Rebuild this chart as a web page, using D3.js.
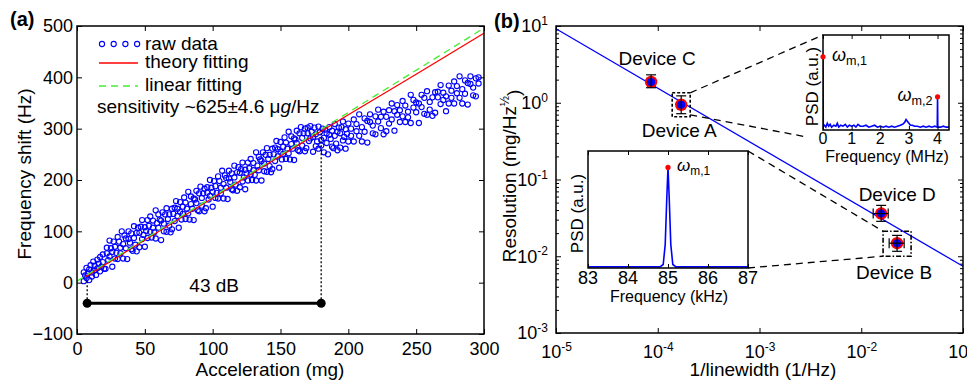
<!DOCTYPE html>
<html>
<head>
<meta charset="utf-8">
<script src="https://d3js.org/d3.v7.min.js"></script>
<style>
  html, body { margin: 0; padding: 0; background: #fff; }
  svg { display: block; font-family: "Liberation Sans", Arial, sans-serif; }
</style>
</head>
<body>
<svg id="chart" width="967" height="383"></svg>
<script>
// ---------- panel (a) data ----------
const accelTicks = [0, 50, 100, 150, 200, 250, 300]
const shiftTicks = [-100, 0, 100, 200, 300, 400, 500]

// [acceleration (mg), frequency shift (Hz), optional second shift]
const rawRows = [
  [5,3,20],[6,14],[7,29,9],[8,18],[9,5,26],[10,34],[11,20,12],[12,41],[13,24,33],[14,15],
  [15,45,28],[16,37],[17,22,50],[18,31],[19,55,40],[20,27],[21,27],[22,57,68],[23,44],[24,82,51],
  [25,67],[26,31,60],[27,80],[28,47,70],[29,58],[30,89,46],[31,80],[32,68,57],[33,100],[34,47,75],
  [35,92],[36,67,86],[37,46],[38,85,100],[39,78],[40,65,96],[41,62],[42,110,87],[43,74],[44,97,61],
  [45,107],[46,69,97],[47,109],[48,85,122],[49,93],[50,108,70],[51,101],[52,122,87],[53,111],[54,99,129],
  [55,88],[56,121,107],[57,98],[58,141,86],[59,116],[60,133,107],[61,123],[62,83,121],[63,137],[64,115,100],
  [65,133],[66,99,145],[67,124],[68,111,133],[69,98],[70,144,104],[71,134],[72,146,120],[73,159],[74,130,144],
  [75,107],[76,138,157],[77,123],[78,148,134],[79,166],[80,124,156],[81,144],[82,135,177],[83,123],[84,153,168],
  [85,144],[86,164,122],[87,162],[88,179,155],[89,141],[90,174,139],[91,187],[92,165,150],[93,174],[94,139,183],
  [95,145],[96,175,186],[97,162],[98,200,169],[99,185],[100,148,177],[101,198],[102,165,188],[103,175],[104,207,164],
  [105,198],[106,185,174],[107,218],[108,164,192],[109,209],[110,185,204],[111,163],[112,203,218],[113,196],[114,182,213],
  [115,180],[116,228,205],[117,191],[118,215,179],[119,225],[120,186,214],[121,221],[122,197,234],[123,205],[124,220,182],
  [125,213],[126,234,199],[127,223],[128,211,241],[129,200],[130,233,219],[131,210],[132,254,199],[133,228],[134,245,219],
  [135,240],[136,199,237],[137,254],[138,232,217],[139,249],[140,216,262],[141,241],[142,227,249],[143,215],[144,261,221],
  [145,250],[146,263,237],[147,276],[148,246,260],[149,224],[150,255,274],[151,240],[152,265,251],[153,283],[154,241,273],
  [155,261],[156,252,294],[157,240],[158,270,285],[159,261],[160,281,239],[161,279],[162,296,272],[163,258],[164,291,256],
  [165,303],[166,282,267],[167,291],[168,256,300],[169,262],[170,291,302],[171,276],[172,305,281],[173,294],[174,255,284],
  [175,302],[176,266,289],[177,275],[178,304,261],[179,293],[180,278,267],[181,300],[182,254,282],[183,298],[184,272,291],
  [185,250],[186,288,303],[187,280],[188,265,296],[189,262],[190,309,286],[191,271],[192,294,258],[193,302],[194,263,291],
  [195,303],[196,277,314],[197,284],[198,299,261],[199,290],[200,310,275],[202,300,286],[204,318,275],[206,309,295],[208,286,328],
  [210,275,303],[212,320,294],[214,315,273],[216,313,328],[218,306,291],[220,324,289],[222,337,314],[224,301,323],[226,289,333],[228,295,323],
  [230,336,310],[232,349,318],[234,334,296],[236,327,346],[238,313,336],[240,324,354],[242,313,345],[244,333,322],[246,366,311],[248,341,356],
  [250,332,351],[252,311,349],[254,366,342],[256,329,360],[258,327,373],[260,352,337],[262,361,325],[264,371,331],[266,361,372],[268,348,385],
  [270,356,370],[272,334,363],[274,384,349],[276,374,360],[278,392,349],[280,383,369],[282,360,402],[284,349,377],[286,394,368],[288,389,347],
  [290,387,402],[292,380,365],[294,398,363],[296,400,388]
]
const theoryFit = [[6, 11], [50, 83], [100, 165], [150, 247], [200, 327], [250, 406], [300, 486]]
const linearFit = [[0, 3], [300, 496]]
const rangeMg = [7.5, 180]
const rangeHz = -40
const rangeTopsHz = [5, 297]
const rangeLabel = '43 dB'

// ---------- panel (b) data ----------
const devices = [
  { name: 'Device C', x: 8.6e-5, y: 1.87, yLo: 1.57, yHi: 2.31 },
  { name: 'Device A', x: 1.7e-4, y: 0.94, yLo: 0.72, yHi: 1.23 },
  { name: 'Device D', x: 0.0157, y: 0.036, yLo: 0.0285, yHi: 0.046, xLo: 0.0131, xHi: 0.0184 },
  { name: 'Device B', x: 0.0225, y: 0.0148, yLo: 0.0116, yHi: 0.0187, xLo: 0.0188, xHi: 0.0264 }
]
const trendX = [1e-5, 1e-1]
const trendY = [9.2, 0.0074]
const linewidthTicks = [1e-5, 1e-4, 1e-3, 1e-2, 1e-1]
const resolutionTicks = [1e-3, 1e-2, 1e-1, 1, 10]

// inset spectra
const mhzTicks = [0, 1, 2, 3, 4]
const mhzSpectrum = [
  [0, 0.77], [0.01, 0.04], [0.05, 0.05], [0.1, 0.03], [0.15, 0.07], [0.2, 0.04], [0.25, 0.06], [0.3, 0.03],
  [0.38, 0.05], [0.45, 0.04], [0.5, 0.07], [0.55, 0.03], [0.62, 0.05], [0.7, 0.04], [0.78, 0.06], [0.85, 0.03],
  [0.92, 0.05], [1.0, 0.04], [1.08, 0.05], [1.15, 0.03], [1.22, 0.06], [1.3, 0.04], [1.4, 0.04], [1.5, 0.05],
  [1.6, 0.03], [1.7, 0.04], [1.8, 0.05], [1.9, 0.03], [2.0, 0.04], [2.1, 0.03], [2.2, 0.04], [2.3, 0.03],
  [2.4, 0.04], [2.5, 0.03], [2.6, 0.04], [2.7, 0.05], [2.78, 0.06], [2.85, 0.08], [2.9, 0.11], [2.95, 0.09],
  [3.0, 0.07], [3.05, 0.05], [3.12, 0.05], [3.2, 0.04], [3.3, 0.04], [3.4, 0.03], [3.5, 0.04], [3.6, 0.03],
  [3.7, 0.04], [3.8, 0.03], [3.9, 0.04], [3.99, 0.03], [4.0, 0.35], [4.01, 0.03], [4.1, 0.03], [4.2, 0.04],
  [4.3, 0.03], [4.4, 0.03]
]
const mhzPeaks = [[0, 0.77, 'm,1'], [4.0, 0.35, 'm,2']]
const khzTicks = [83, 84, 85, 86, 87]
const khzSpectrum = [
  [83, 0.01], [84.8, 0.01], [84.88, 0.03], [84.93, 0.2], [84.97, 0.6], [85.0, 0.86],
  [85.03, 0.6], [85.07, 0.2], [85.12, 0.03], [85.2, 0.01], [87, 0.01]
]
const khzPeaks = [[85.0, 0.86, 'm,1']]

// ---------- styles / layout ----------
const BLUE = '#0000ff'
const RED = '#ff0000'
const GREEN = '#44ee33'
const TICK_FONT = 18
const LABEL_FONT = 19

const svg = d3.select('#chart')

function axisStyle(g) {
  g.select('.domain').remove()
  g.selectAll('.tick line').attr('stroke', '#000').attr('stroke-width', 1)
  g.selectAll('.tick text').attr('font-size', TICK_FONT + 'px').attr('fill', '#000')
    .attr('font-family', '"Liberation Sans", Arial, sans-serif')
}

function powLabels(g) {
  g.selectAll('.tick text').each(function(d) {
    const t = d3.select(this)
    t.text(null)
    t.append('tspan').text('10')
    t.append('tspan').attr('dy', '-0.6em').attr('font-size', '12px').text(Math.round(Math.log10(d)))
  })
}

function frame(x0, y0, x1, y1, w) {
  svg.append('rect').attr('x', x0).attr('y', y0).attr('width', x1 - x0).attr('height', y1 - y0)
    .attr('fill', 'none').attr('stroke', '#000').attr('stroke-width', w || 1.5)
}

function omega(g, x, y, sub, size) {
  const t = g.append('text').attr('x', x).attr('y', y).attr('font-size', size + 'px')
  t.append('tspan').attr('font-style', 'italic').text('ω')
  t.append('tspan').attr('font-size', (size * 0.7) + 'px').attr('dy', '0.3em').text(sub)
  return t
}

// =========== panel (a) ===========
const ax = d3.scaleLinear().domain([0, 300]).range([77, 484])
const ay = d3.scaleLinear().domain([-100, 500]).range([334, 26])

const ga = svg.append('g')
ga.append('g').attr('transform', `translate(0,${ay(-100)})`)
  .call(d3.axisBottom(ax).tickValues(accelTicks).tickSize(-5).tickPadding(8)).call(axisStyle)
ga.append('g').attr('transform', `translate(0,${ay(500)})`)
  .call(d3.axisTop(ax).tickValues(accelTicks).tickSize(-5).tickFormat('')).call(axisStyle)
ga.append('g').attr('transform', `translate(${ax(0)},0)`)
  .call(d3.axisLeft(ay).tickValues(shiftTicks).tickSize(-5).tickPadding(4)).call(axisStyle)
ga.append('g').attr('transform', `translate(${ax(300)},0)`)
  .call(d3.axisRight(ay).tickValues(shiftTicks).tickSize(-5).tickFormat('')).call(axisStyle)

const rawPts = rawRows.flatMap(r => r.slice(1).map(v => [r[0], v]))
ga.append('g').selectAll('circle').data(rawPts).join('circle')
  .attr('cx', d => ax(d[0])).attr('cy', d => ay(d[1])).attr('r', 2.6)
  .attr('fill', 'none').attr('stroke', BLUE).attr('stroke-width', 1.1)

const line = d3.line().x(d => ax(d[0])).y(d => ay(d[1]))
ga.append('path').datum(theoryFit).attr('d', line.curve(d3.curveMonotoneX))
  .attr('fill', 'none').attr('stroke', RED).attr('stroke-width', 1.3)
ga.append('path').datum(linearFit).attr('d', d3.line().x(d => ax(d[0])).y(d => ay(d[1])))
  .attr('fill', 'none').attr('stroke', GREEN).attr('stroke-width', 1.3).attr('stroke-dasharray', '7,5')

// dynamic range bar
rangeMg.forEach((m, i) => {
  ga.append('line').attr('x1', ax(m)).attr('x2', ax(m)).attr('y1', ay(rangeHz)).attr('y2', ay(rangeTopsHz[i]))
    .attr('stroke', '#000').attr('stroke-width', 1.3).attr('stroke-dasharray', '2,2')
})
ga.append('line').attr('x1', ax(rangeMg[0])).attr('x2', ax(rangeMg[1]))
  .attr('y1', ay(rangeHz)).attr('y2', ay(rangeHz)).attr('stroke', '#000').attr('stroke-width', 3)
ga.selectAll('.endDot').data(rangeMg).join('circle').attr('class', 'endDot')
  .attr('cx', d => ax(d)).attr('cy', ay(rangeHz)).attr('r', 4.5).attr('fill', '#000')
ga.append('text').attr('x', ax(d3.mean(rangeMg)) + 10).attr('y', ay(rangeHz) - 11)
  .attr('text-anchor', 'middle').attr('font-size', LABEL_FONT + 'px').text(rangeLabel)

// legend
const legend = ga.append('g')
legend.selectAll('circle').data([0, 1, 2, 3]).join('circle')
  .attr('cx', d => 102 + d * 11.7).attr('cy', 44).attr('r', 2.6)
  .attr('fill', 'none').attr('stroke', BLUE).attr('stroke-width', 1.1)
legend.append('line').attr('x1', 99).attr('x2', 138).attr('y1', 63).attr('y2', 63)
  .attr('stroke', RED).attr('stroke-width', 1.3)
legend.append('line').attr('x1', 99).attr('x2', 138).attr('y1', 86).attr('y2', 86)
  .attr('stroke', GREEN).attr('stroke-width', 1.3).attr('stroke-dasharray', '7,5')
const legendText = [['raw data', 50], ['theory fitting', 68], ['linear fitting', 91]]
legend.selectAll('text.lg').data(legendText).join('text').attr('class', 'lg')
  .attr('x', 145).attr('y', d => d[1]).attr('font-size', LABEL_FONT + 'px').text(d => d[0])
const sens = legend.append('text').attr('x', 97).attr('y', 113).attr('font-size', LABEL_FONT + 'px')
sens.append('tspan').text('sensitivity ~625±4.6 μ')
sens.append('tspan').attr('font-style', 'italic').text('g')
sens.append('tspan').text('/Hz')

frame(ax(0), ay(500), ax(300), ay(-100))

ga.append('text').attr('transform', 'translate(31,174) rotate(-90)').attr('text-anchor', 'middle')
  .attr('font-size', LABEL_FONT + 'px').text('Frequency shift (Hz)')
ga.append('text').attr('x', 270).attr('y', 376).attr('text-anchor', 'middle')
  .attr('font-size', LABEL_FONT + 'px').text('Acceleration (mg)')
ga.append('text').attr('x', 10).attr('y', 26).attr('font-size', '20px').attr('font-weight', 'bold').text('(a)')

// =========== panel (b) ===========
const bx = d3.scaleLog().domain([1e-5, 1e-1]).range([556, 963])
const by = d3.scaleLog().domain([1e-3, 10]).range([333, 26])
const gb = svg.append('g')

gb.append('g').attr('transform', `translate(0,${by(1e-3)})`)
  .call(d3.axisBottom(bx).tickValues(linewidthTicks).tickSize(-5).tickPadding(12)).call(axisStyle).call(powLabels)
gb.append('g').attr('transform', `translate(0,${by(10)})`)
  .call(d3.axisTop(bx).tickValues(linewidthTicks).tickSize(-5).tickFormat('')).call(axisStyle)
gb.append('g').attr('transform', `translate(${bx(1e-5)},0)`)
  .call(d3.axisLeft(by).tickValues(resolutionTicks).tickSize(-5).tickPadding(8)).call(axisStyle).call(powLabels)
gb.append('g').attr('transform', `translate(${bx(1e-1)},0)`)
  .call(d3.axisRight(by).tickValues(resolutionTicks).tickSize(-5).tickFormat('')).call(axisStyle)

// minor ticks on resolution axis
const minorY = []
for (let e = -3; e < 1; e++) for (let k = 2; k <= 9; k++) minorY.push(k * Math.pow(10, e))
gb.append('g').attr('transform', `translate(${bx(1e-5)},0)`)
  .call(d3.axisLeft(by).tickValues(minorY).tickSize(-3).tickFormat('')).call(axisStyle)
gb.append('g').attr('transform', `translate(${bx(1e-1)},0)`)
  .call(d3.axisRight(by).tickValues(minorY).tickSize(-3).tickFormat('')).call(axisStyle)

// trend line
gb.append('line').attr('x1', bx(trendX[0])).attr('y1', by(trendY[0]))
  .attr('x2', bx(trendX[1])).attr('y2', by(trendY[1]))
  .attr('stroke', BLUE).attr('stroke-width', 1.3)

// dashed boxes around devices A and B
const boxes = { 'Device A': [9, 12, 12, '3,2'], 'Device B': [14, 12, 13, '5,2,1.5,2'] }
const boxRect = {}
for (const d of devices) {
  const b = boxes[d.name]
  if (!b) continue
  const cx = bx(d.x), cy = by(d.y)
  boxRect[d.name] = { x0: cx - b[0], x1: cx + b[0], y0: cy - b[1], y1: cy + b[2] }
  gb.append('rect').attr('x', cx - b[0]).attr('y', cy - b[1]).attr('width', 2 * b[0]).attr('height', b[1] + b[2])
    .attr('fill', 'none').attr('stroke', '#000').attr('stroke-width', 1.6).attr('stroke-dasharray', b[3])
}

// inset layout
const in1 = { x0: 823, x1: 949, y0: 35, y1: 130 }
const in2 = { x0: 588, x1: 748, y0: 151, y1: 268 }

// connectors
const bA = boxRect['Device A'], bB = boxRect['Device B']
const connectors = [
  [bA.x1, bA.y0, in1.x0, in1.y0],
  [bA.x1, bA.y1 - 2, in1.x0 - 16, in1.y1 + 7],
  [in2.x1, in2.y0, bB.x0, bB.y0],
  [in2.x1, in2.y1, bB.x0, bB.y1]
]
gb.selectAll('line.conn').data(connectors).join('line').attr('class', 'conn')
  .attr('x1', d => d[0]).attr('y1', d => d[1]).attr('x2', d => d[2]).attr('y2', d => d[3])
  .attr('stroke', '#000').attr('stroke-width', 1.3).attr('stroke-dasharray', '7,5')

// device markers
const dev = gb.append('g')
dev.selectAll('circle.r').data(devices).join('circle').attr('class', 'r')
  .attr('cx', d => bx(d.x)).attr('cy', d => by(d.y)).attr('r', 6.2).attr('fill', RED)
dev.selectAll('circle.b').data(devices).join('circle').attr('class', 'b')
  .attr('cx', d => bx(d.x)).attr('cy', d => by(d.y)).attr('r', 4).attr('fill', BLUE)
for (const d of devices) {
  const cx = bx(d.x), cy = by(d.y)
  const cap = 5
  dev.append('line').attr('x1', cx).attr('x2', cx).attr('y1', by(d.yLo)).attr('y2', by(d.yHi))
  dev.append('line').attr('x1', cx - cap).attr('x2', cx + cap).attr('y1', by(d.yLo)).attr('y2', by(d.yLo))
  dev.append('line').attr('x1', cx - cap).attr('x2', cx + cap).attr('y1', by(d.yHi)).attr('y2', by(d.yHi))
  if (d.xLo) {
    dev.append('line').attr('x1', bx(d.xLo)).attr('x2', bx(d.xHi)).attr('y1', cy).attr('y2', cy)
    dev.append('line').attr('x1', bx(d.xLo)).attr('x2', bx(d.xLo)).attr('y1', cy - cap).attr('y2', cy + cap)
    dev.append('line').attr('x1', bx(d.xHi)).attr('x2', bx(d.xHi)).attr('y1', cy - cap).attr('y2', cy + cap)
  }
}
dev.selectAll('line').attr('stroke', '#000').attr('stroke-width', 1.2)

const labelOffset = { 'Device C': [6, -17], 'Device A': [-2, 32], 'Device D': [16, -13], 'Device B': [-3, 36] }
gb.selectAll('text.dev').data(devices).join('text').attr('class', 'dev')
  .attr('x', d => bx(d.x) + labelOffset[d.name][0]).attr('y', d => by(d.y) + labelOffset[d.name][1])
  .attr('text-anchor', 'middle').attr('font-size', LABEL_FONT + 'px').text(d => d.name)

frame(bx(1e-5), by(10), bx(1e-1), by(1e-3))

const ylab = gb.append('text').attr('transform', 'translate(516,176) rotate(-90)').attr('text-anchor', 'middle')
  .attr('font-size', LABEL_FONT + 'px')
ylab.append('tspan').text('Resolution (mg/Hz')
ylab.append('tspan').attr('dy', '-0.55em').attr('font-size', '12px').text('½')
ylab.append('tspan').attr('dy', '0.55em').text(')')
gb.append('text').attr('x', 763).attr('y', 376).attr('text-anchor', 'middle')
  .attr('font-size', LABEL_FONT + 'px').text('1/linewidth (1/Hz)')
gb.append('text').attr('x', 494).attr('y', 28).attr('font-size', '20px').attr('font-weight', 'bold').text('(b)')

// ---------- insets ----------
function inset(box, domain, ticks, spectrum, peaks, unit, tickFont, tickBase, labelBase, omegaSize) {
  const g = svg.append('g')
  g.append('rect').attr('x', box.x0).attr('y', box.y0).attr('width', box.x1 - box.x0).attr('height', box.y1 - box.y0)
    .attr('fill', '#fff')
  const x = d3.scaleLinear().domain(domain).range([box.x0, box.x1])
  const y = d3.scaleLinear().domain([0, 1]).range([box.y1, box.y0])
  const clipId = 'clip' + unit
  g.append('clipPath').attr('id', clipId).append('rect')
    .attr('x', box.x0).attr('y', box.y0).attr('width', box.x1 - box.x0).attr('height', box.y1 - box.y0)
  g.append('path').datum(spectrum).attr('clip-path', `url(#${clipId})`)
    .attr('d', d3.line().x(d => x(d[0])).y(d => y(d[1])))
    .attr('fill', 'none').attr('stroke', BLUE).attr('stroke-width', 1.6)
  g.append('g').attr('transform', `translate(0,${box.y0})`)
    .call(d3.axisTop(x).tickValues(ticks).tickSize(-4).tickFormat('')).call(axisStyle)
  g.append('g').attr('transform', `translate(0,${box.y1})`)
    .call(d3.axisBottom(x).tickValues(ticks).tickSize(-4).tickFormat('')).call(axisStyle)
  g.selectAll('text.tk').data(ticks).join('text').attr('class', 'tk')
    .attr('x', d => x(d)).attr('y', tickBase).attr('text-anchor', 'middle')
    .attr('font-size', tickFont + 'px').text(d => d)
  g.append('rect').attr('x', box.x0).attr('y', box.y0).attr('width', box.x1 - box.x0).attr('height', box.y1 - box.y0)
    .attr('fill', 'none').attr('stroke', '#000').attr('stroke-width', 1.5)
  g.selectAll('circle.pk').data(peaks).join('circle').attr('class', 'pk')
    .attr('cx', d => x(d[0])).attr('cy', d => y(d[1])).attr('r', 2.6).attr('fill', RED)
  peaks.forEach(p => {
    const right = x(p[0]) > (box.x0 + box.x1) / 2
    omega(g, x(p[0]) + (right ? -5 : 9), y(p[1]) + 4, p[2], omegaSize).attr('text-anchor', right ? 'end' : 'start')
  })
  g.append('text').attr('x', (box.x0 + box.x1) / 2 + 1).attr('y', labelBase).attr('text-anchor', 'middle')
    .attr('font-size', '16px').text(`Frequency (${unit})`)
  g.append('text').attr('transform', `translate(${box.x0 - 5},${(box.y0 + box.y1) / 2 + 4}) rotate(-90)`)
    .attr('text-anchor', 'middle').attr('font-size', '17px').text('PSD (a.u.)')
}

inset(in1, [0, 4.4], mhzTicks, mhzSpectrum, mhzPeaks, 'MHz', 16, 144, 162, 18)
inset(in2, [83, 87], khzTicks, khzSpectrum, khzPeaks, 'kHz', 18, 284, 302, 17)
</script>
</body>
</html>
